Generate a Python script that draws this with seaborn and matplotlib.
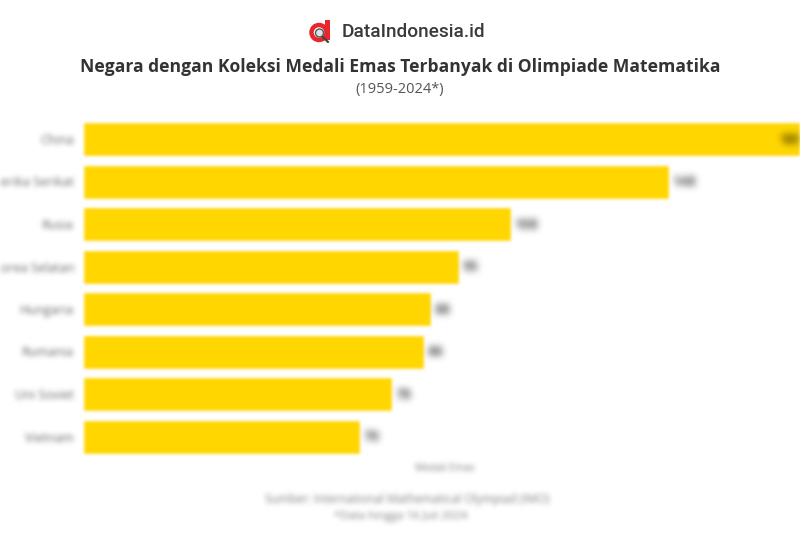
### Bibliotheken
import numpy as np
import pandas as pd
import matplotlib
matplotlib.use("Agg")
import matplotlib.pyplot as plt
from matplotlib.patches import Circle, Rectangle
import seaborn as sns

negara = ["China", "Amerika Serikat", "Rusia", "Korea Selatan", "Hungaria", "Rumania", "Uni Soviet", "Vietnam"]
medali_emas = [189, 148, 108, 95, 88, 86, 78, 70]

judul = "Negara dengan Koleksi Medali Emas Terbanyak di Olimpiade Matematika"
periode = "(1959-2024*)"
sumber = "Sumber: International Mathematical Olympiad (IMO)"
catatan = "*Data hingga 16 Juli 2024"

W, H = 800, 533
KUNING = "#FFD600"


def blur(image, dpi, radius=2):
    # Box-Blur, dreimal hintereinander, ergibt fast einen Gauss
    pad = radius * 4
    img = np.pad(image, ((pad, pad), (pad, pad), (0, 0)))
    img[..., :3] *= img[..., 3:]
    kernel = np.ones(2 * radius + 1) / (2 * radius + 1)
    for _ in range(3):
        for axis in (0, 1):
            img = np.apply_along_axis(np.convolve, axis, img, kernel, mode="same")
    alpha = np.clip(img[..., 3:], 1e-4, 1)
    img[..., :3] = np.clip(img[..., :3] / alpha, 0, 1)
    return img, -pad, -pad


sns.set_theme(style="white")
plt.rcParams["font.family"] = ["Open Sans", "DejaVu Sans"]

fig = plt.figure(figsize=(W / 100, H / 100), dpi=100)
ax = fig.add_axes([83 / W, 1 - 457.75 / H, (W - 83) / W, 340 / H])

df = pd.DataFrame({"negara": negara, "medali": medali_emas})
sns.barplot(data=df, y="negara", x="medali", color=KUNING, saturation=1, width=0.8, ax=ax)

ax.set_xlim(0, (W - 83) / 3.96)
ax.set_ylim(7.5, -0.5)
ax.set_xlabel("")
ax.set_ylabel("")
ax.set_xticks([])
sns.despine(ax=ax, left=True, bottom=True)
ax.tick_params(axis="y", length=0, pad=6.5, labelsize=9, labelcolor="#666666")

for patch in ax.patches:
    patch.set_agg_filter(lambda im, dpi: blur(im, dpi, 1))
for label in ax.get_yticklabels():
    label.set_agg_filter(blur)

# Wertelabels, China liegt im Balken weil der Balken abgeschnitten ist
xmax = ax.get_xlim()[1]
for i, wert in enumerate(medali_emas):
    if wert > xmax:
        t = ax.annotate(str(wert), (xmax, i), xytext=(2, -0.7), textcoords="offset points", ha="right",
                        va="center", fontsize=10, fontweight="bold", color="#4a3f00", annotation_clip=False)
    else:
        t = ax.annotate(str(wert), (wert, i), xytext=(2.5, -0.7), textcoords="offset points", ha="left",
                        va="center", fontsize=10, fontweight="bold", color="#555555")
    t.set_agg_filter(blur)

# Kopfzeile
fig.text(342 / W, 1 - 32 / H, "DataIndonesia.id", family="Roboto", fontsize=13.7, fontweight="medium",
         color="#3a3a3a", ha="left", va="center")
fig.text(400.5 / W, 1 - 66.5 / H, judul, fontsize=12.6, fontweight="bold", color="#333333", ha="center", va="center")
fig.text(400 / W, 1 - 89 / H, periode, fontsize=10.5, color="#555555", ha="center", va="center")

# Logo in Pixelkoordinaten
logo = fig.add_axes([0, 0, 1, 1], facecolor="none")
logo.set_xlim(0, W)
logo.set_ylim(H, 0)
logo.axis("off")
logo.add_patch(Rectangle((325, 20), 4.5, 20, color="#E8262B", lw=0))
logo.add_patch(Circle((319, 32.5), 7.5, fill=False, ec="#E8262B", lw=3.2))
logo.add_patch(Circle((319.5, 33), 4, fc="#DCE6E8", ec="#555555", lw=1))
logo.plot([323, 328], [37, 42], color="#444444", lw=1.6, solid_capstyle="round")

# Fusszeile
for x, y, teks, size in [(445, 468.5, "Medali Emas", 7.2), (407.5, 500, sumber, 8.35), (401, 516, catatan, 8.2)]:
    t = fig.text(x / W, 1 - y / H, teks, fontsize=size, color="#808080", ha="center", va="center")
    t.set_agg_filter(blur)

fig.savefig("out.png", dpi=100)
